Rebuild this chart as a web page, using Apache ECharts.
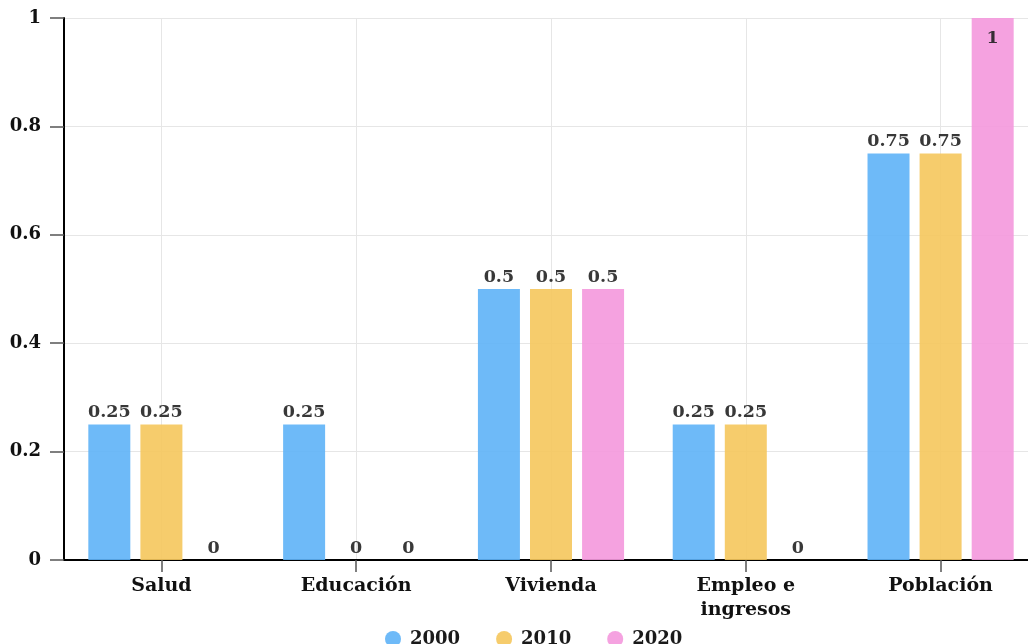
<!DOCTYPE html>
<html>
<head>
<meta charset="utf-8">
<script src="https://cdn.jsdelivr.net/npm/echarts@6/dist/echarts.min.js"></script>
<style>
  html, body { margin: 0; padding: 0; background: #fff; overflow: hidden; }
  #chart { width: 1040px; height: 644px; }
</style>
</head>
<body>
<div id="chart"></div>
<script>
// Indicator scores per theme and census year
const categories = ['Salud', 'Educación', 'Vivienda', 'Empleo e\ningresos', 'Población'];
const years = ['2000', '2010', '2020'];
const values2000 = [0.25, 0.25, 0.5, 0.25, 0.75];
const values2010 = [0.25, 0, 0.5, 0.25, 0.75];
const values2020 = [0, 0, 0.5, 0, 1];
const yTicks = [0, 0.2, 0.4, 0.6, 0.8, 1];

const colors = ['#5eb3f7', '#f5c65c', '#f498dd'];
const font = '"DejaVu Serif", "Liberation Serif", serif';

// half-band helper axis: its odd boundaries fall on the category centres
const halfBands = [];
categories.forEach(() => { halfBands.push('', ''); });

const labelStyle = {
  show: true,
  position: 'top',
  distance: 3,
  fontFamily: font,
  fontWeight: 'bold',
  fontSize: 17.5,
  color: '#222'
};

function makeSeries(name, data, idx) {
  return {
    name: name,
    type: 'bar',
    xAxisIndex: 0,
    barWidth: 42,
    barGap: '24%',
    itemStyle: { color: colors[idx], opacity: 0.9 },
    label: labelStyle,
    data: data.map(v => {
      // a bar reaching the top of the scale keeps its label inside
      if (v >= yTicks[yTicks.length - 1]) {
        return { value: v, label: { position: 'insideTop', distance: 11 } };
      }
      return v;
    })
  };
}

const chart = echarts.init(document.getElementById('chart'), null, { renderer: 'canvas' });
chart.setOption({
  animation: false,
  color: colors,
  grid: { left: 64, top: 18, bottom: 84, width: 974, containLabel: false },
  legend: {
    data: years,
    top: 625,
    left: 380,
    icon: 'circle',
    itemWidth: 16,
    itemHeight: 16,
    itemGap: 36,
    textStyle: { fontFamily: font, fontWeight: 'bold', fontSize: 18, color: '#1a1a1a', padding: [0, 0, 0, 4] }
  },
  xAxis: [
    {
      type: 'category',
      data: categories,
      axisLine: { show: true, lineStyle: { color: '#000', width: 2 } },
      axisTick: { show: true, alignWithLabel: true, length: 12, lineStyle: { color: '#555', width: 1.5 } },
      axisLabel: {
        fontFamily: font, fontWeight: 'bold', fontSize: 19, color: '#111',
        margin: 14, lineHeight: 24, interval: 0
      },
      splitLine: { show: false }
    },
    {
      type: 'category',
      data: halfBands,
      position: 'bottom',
      axisLine: { show: false },
      axisTick: { show: false },
      axisLabel: { show: false },
      splitLine: {
        show: true,
        interval: function (index) { return index % 2 === 1; },
        lineStyle: { color: '#e6e6e6', width: 1 }
      },
      z: 0
    }
  ],
  yAxis: {
    type: 'value',
    min: yTicks[0],
    max: yTicks[yTicks.length - 1],
    interval: 0.2,
    axisLine: { show: true, lineStyle: { color: '#000', width: 2 } },
    axisTick: { show: true, length: 14, lineStyle: { color: '#555', width: 1.5 } },
    axisLabel: {
      fontFamily: font, fontWeight: 'bold', fontSize: 18, color: '#111', margin: 23,
      formatter: v => String(Math.round(v * 10) / 10)
    },
    splitLine: { show: true, lineStyle: { color: '#e6e6e6', width: 1 } }
  },
  series: [
    makeSeries(years[0], values2000, 0),
    makeSeries(years[1], values2010, 1),
    makeSeries(years[2], values2020, 2)
  ]
});
</script>
</body>
</html>
